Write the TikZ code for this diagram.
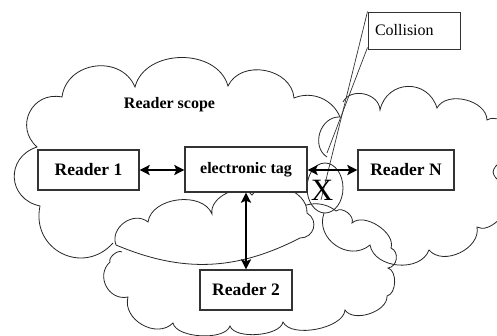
\documentclass[tikz,border=0pt]{standalone}
\usepackage{fontspec}
\setmainfont{Liberation Serif}
\usetikzlibrary{arrows.meta}
\begin{document}
\begin{tikzpicture}[x=1pt,y=1pt,
  cl/.style={line width=0.8pt, black!85},
  lb/.style={bend left=75, looseness=#1}, lb/.default=1.2,
  box/.style={draw=black!80, line width=1.3pt, fill=white, inner sep=0pt,
    font=\fontsize{17.5}{20}\selectfont\bfseries},
  ar/.style={line width=2.8pt, black,
    arrows={Stealth[length=10pt,width=10pt,inset=2pt]-Stealth[length=10pt,width=10pt,inset=2pt]}},
  callout/.style={line width=0.7pt, black!80}
]
\useasboundingbox (0,0) rectangle (497,-335);
\clip (0,0) rectangle (497,-335);

% cloud C (Reader 2 cloud)
\draw[cl] (290,-216) to[bend left=45] (336,-211) to[lb=1] (352,-223)
  to[lb=0.9] (391,-248) to[lb=1.2] (388,-268) to[lb=0.9] (387,-296)
  to[lb=0.9] (345,-310) to[lb=0.75] (283,-322) to[lb=0.7] (230,-326)
  to[lb=0.7] (173,-323) to[lb=1.15] (128,-297) to[lb=1.3] (110,-262)
  to[lb=0.8] (122,-252);

% cloud B (middle)
\draw[cl, fill=white] (116,-245) to[lb=1.2] (148,-222) to[lb=1.0] (212,-214)
  to[lb=1.0] (252,-195) to[lb=1.05] (307,-213) to[lb=1.4] (300,-238)
  to[bend left=25] (116,-245) -- cycle;

% cloud A (Reader scope)
\draw[cl] (113,-243) to[lb=1.4] (40,-206) to[lb=1.45] (37,-147)
  to[lb=1.4] (62,-97) to[lb=1.25] (135,-87) to[lb=1.1] (228,-86)
  to[lb=1.15] (294,-98) to[bend left=45] (340,-117);

% cloud D (Reader N)
\draw[cl] (327,-157) to[lb=1.2] (340,-117);
\draw[cl] (343,-102) to[lb=1.15] (380,-110) to[lb=1.4] (437,-108)
  to[lb=1.0] (487,-120) to[lb=1.1] (512,-145);
\draw[cl] (500,-163) to[bend right=25] (493,-172) to[bend right=25] (500,-181);
\draw[cl] (505,-200) to[lb=0.9] (477,-227) to[lb=1.05] (429,-250)
  to[lb=1.05] (370,-245) to[lb=1.25] (324,-213);

% collision ellipse
\draw[cl] (325,-188) ellipse [x radius=18pt, y radius=25pt];

% callout
\node[draw=black!80, line width=1pt, fill=white, minimum width=92pt,
  minimum height=37pt, inner xsep=7pt, text width=78pt, align=left,
  font=\fontsize{16}{18}\selectfont] (col) at (414,-30.5) {Collision};
\coordinate (tip) at (321,-200);
\coordinate (tip2) at (327,-153);
\draw[callout] (col.north west) -- (tip);
\draw[callout] ([yshift=2pt]col.south west) -- (tip2);

% boxes
\node[box, minimum width=101pt, minimum height=40pt] (r1) at (88.5,-170) {Reader 1};
\node[box, minimum width=122pt, minimum height=45pt,
  font=\fontsize{16}{18}\selectfont\bfseries] (tag) at (246,-169.5) {electronic tag};
\node[box, minimum width=96pt, minimum height=40pt] (rN) at (406,-170) {Reader N};
\node[box, minimum width=92pt, minimum height=40pt] (r2) at (246,-290) {Reader 2};

\node[font=\fontsize{16}{18}\selectfont\bfseries] (scope) at (169.5,-105) {Reader scope};
\node[font=\fontsize{31}{31}\selectfont, inner sep=0pt] (x) at (322,-190) {X};

% arrows
\draw[ar] (r1.east) -- (tag.west |- r1.east);
\draw[ar] (tag.east |- rN.west) -- (rN.west);
\draw[ar] (tag.south) -- (r2.north);
\end{tikzpicture}
\end{document}
